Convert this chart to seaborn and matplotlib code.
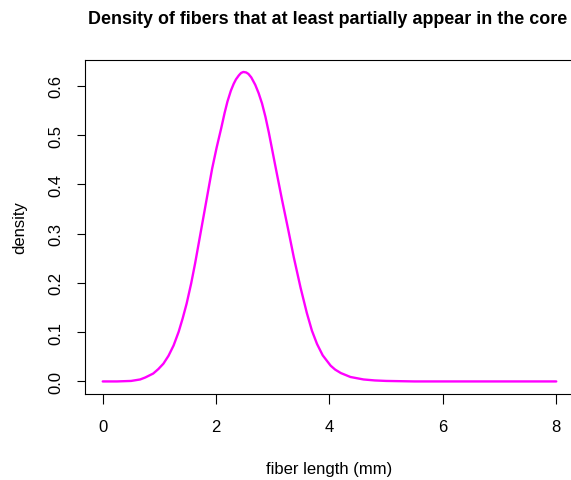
import matplotlib
matplotlib.use("Agg")
import matplotlib.pyplot as plt
import seaborn as sns
import pandas as pd

# fiber length (mm) and density values
fiber_length = [0, 0.25, 0.5, 0.66, 0.75, 0.89, 0.98, 1.07, 1.16, 1.25, 1.34, 1.41, 1.48,
                1.56, 1.63, 1.78, 1.93, 2.01, 2.09, 2.15, 2.20, 2.26, 2.31, 2.35, 2.40,
                2.44, 2.48, 2.53, 2.57, 2.62, 2.69, 2.75, 2.81, 2.87, 2.93, 3.04, 3.16,
                3.27, 3.37, 3.49, 3.60, 3.69, 3.78, 3.88, 4.02, 4.10, 4.20, 4.37, 4.6,
                4.8, 5.0, 5.5, 6, 7, 8]
density = [0, 0, 0.001, 0.004, 0.008, 0.016, 0.025, 0.036, 0.052, 0.073, 0.101, 0.128, 0.158,
           0.199, 0.240, 0.336, 0.432, 0.475, 0.514, 0.545, 0.568, 0.590, 0.604, 0.613, 0.621,
           0.626, 0.628, 0.627, 0.624, 0.617, 0.602, 0.585, 0.564, 0.537, 0.505, 0.440, 0.370,
           0.309, 0.252, 0.190, 0.139, 0.103, 0.076, 0.053, 0.032, 0.024, 0.017, 0.009, 0.004,
           0.002, 0.001, 0, 0, 0, 0]
x_ticks = [0, 2, 4, 6, 8]
y_ticks = [0.0, 0.1, 0.2, 0.3, 0.4, 0.5, 0.6]
title = "Density of fibers that at least partially appear in the core"
x_label = "fiber length (mm)"
y_label = "density"

sns.set_theme(style="white")
plt.rcParams['font.family'] = ['Liberation Sans', 'DejaVu Sans']
plt.rcParams['text.color'] = 'black'

df = pd.DataFrame({"x": fiber_length, "y": density})

W, H = 571, 481
fig = plt.figure(figsize=(W / 100, H / 100), dpi=100)
left_px, right_px, top_px, bottom_px = 84.6, 574.4, 60.6, 394.8
ax = fig.add_axes([left_px / W, 1 - bottom_px / H, (right_px - left_px) / W, (bottom_px - top_px) / H])

sns.lineplot(data=df, x="x", y="y", ax=ax, color="#FF00FF", linewidth=1.7,
             estimator=None, sort=False)
for ln in ax.lines:
    ln.set_solid_joinstyle("round")

ax.set_xlim(-0.32, 8.32)
ax.set_ylim(-0.0251, 0.6531)
ax.set_xticks(x_ticks)
ax.set_xticklabels([str(v) for v in x_ticks])
ax.set_yticks(y_ticks)
ax.set_yticklabels([f"{v:.1f}" for v in y_ticks], rotation=90, va="center")
ax.set_xlabel("")
ax.set_ylabel("")
for s in ax.spines.values():
    s.set_visible(True)
    s.set_color("black")
    s.set_linewidth(0.8)
ax.tick_params(axis="x", direction="out", length=7.5, width=0.8, pad=11, labelsize=12,
               colors="black", bottom=True)
ax.tick_params(axis="y", direction="out", length=6, width=0.8, pad=9, labelsize=12,
               colors="black", left=True)
ax.grid(False)

fig.text(328 / W, 1 - 24 / H, title, ha="center", va="baseline", fontsize=12.9,
         fontweight="bold", color="black")
fig.text(329.5 / W, 1 - 470 / H, x_label, ha="center", va="center", fontsize=12, color="black")
fig.text(20 / W, 1 - 227.7 / H, y_label, ha="center", va="center", rotation=90, fontsize=12,
         color="black")

fig.savefig("out.png", dpi=100)
